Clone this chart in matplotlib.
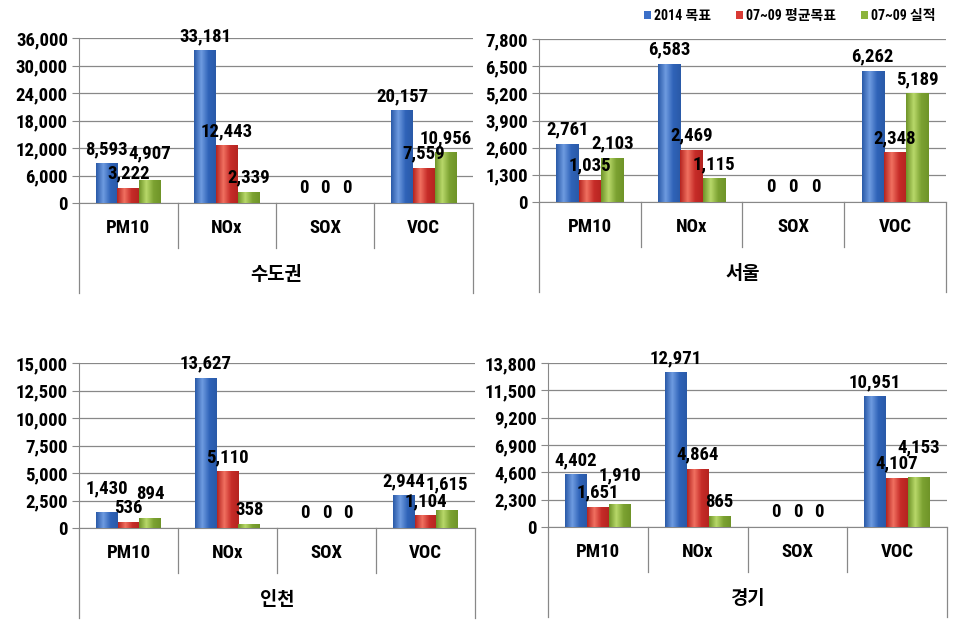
import numpy as np
import matplotlib
matplotlib.use('Agg')
import matplotlib.pyplot as plt
from matplotlib.colors import LinearSegmentedColormap
from matplotlib.patches import Patch

plt.rcParams['font.family'] = ['Roboto Condensed', 'Roboto', 'Noto Sans CJK KR', 'DejaVu Sans']
plt.rcParams['font.weight'] = 'bold'

# 데이터
categories = ['PM10', 'NOx', 'SOX', 'VOC']
series_names = ['2014 목표', '07~09 평균목표', '07~09 실적']
regions = ['수도권', '서울', '인천', '경기']

target_2014 = [[8593, 33181, 0, 20157],
               [2761, 6583, 0, 6262],
               [1430, 13627, 0, 2944],
               [4402, 12971, 0, 10951]]
avg_target = [[3222, 12443, 0, 7559],
              [1035, 2469, 0, 2348],
              [536, 5110, 0, 1104],
              [1651, 4864, 0, 4107]]
actual = [[4907, 2339, 0, 10956],
          [2103, 1115, 0, 5189],
          [894, 358, 0, 1615],
          [1910, 865, 0, 4153]]

y_max = [36000, 7800, 15000, 13800]
y_step = [6000, 1300, 2500, 2300]

# 겹치는 라벨 위로 밀기 (지역, 계열, 항목) -> 포인트
label_nudge = {(0, 2, 0): 9, (2, 0, 0): 7, (2, 2, 0): 7, (2, 2, 3): 8,
               (3, 2, 0): 10, (3, 2, 3): 11}

# 색상 (어두운 가장자리 -> 밝은 하이라이트 -> 어두운 가장자리)
colors = [('#2a5aa8', '#6e9be0', '#2f63b8'),
          ('#b52420', '#f07060', '#c62c28'),
          ('#6f9428', '#b8d86a', '#7ca232')]
legend_colors = ['#3b6fc8', '#d93a34', '#8cb43c']

W, H = 962, 625
# 플롯 영역 (픽셀: 왼쪽, 오른쪽, 위, 0선)
boxes = [(79, 473, 38, 203), (539, 946, 39, 202),
         (79, 475, 363, 528), (548, 947, 363, 527)]

fig = plt.figure(figsize=(W / 100, H / 100), dpi=100)

grad = np.linspace(0, 1, 64).reshape(1, -1)

for i, region in enumerate(regions):
    l, r, t, b = boxes[i]
    ax = fig.add_axes([l / W, (H - b) / H, (r - l) / W, (b - t) / H])
    ph = b - t
    x = np.arange(len(categories))
    w = 0.22
    data = [target_2014[i], avg_target[i], actual[i]]
    for k, vals in enumerate(data):
        bars = ax.bar(x + (k - 1) * w, vals, w, color='none', zorder=3)
        cmap = LinearSegmentedColormap.from_list('g', [colors[k][0], colors[k][1], colors[k][2], colors[k][0]])
        for j, (rect, v) in enumerate(zip(bars, vals)):
            x0 = rect.get_x()
            if v > 0:
                ax.imshow(grad, cmap=cmap, aspect='auto', zorder=3,
                          extent=(x0, x0 + rect.get_width(), 0, rect.get_height()))
            dy = 4 + label_nudge.get((i, k, j), 0)
            ax.annotate(f'{v:,}', (x0 + rect.get_width() / 2, v), xytext=(0, dy),
                        textcoords='offset points', ha='center', va='bottom',
                        fontsize=13.5, fontweight='bold', zorder=5)

    ax.set_xlim(-0.5, len(categories) - 0.5)
    ax.set_ylim(0, y_max[i])
    ax.set_yticks(np.arange(0, y_max[i] + 1, y_step[i]))
    ax.yaxis.set_major_formatter(matplotlib.ticker.FuncFormatter(lambda v, p: f'{int(v):,}'))
    ax.tick_params(axis='y', length=5, color='#888888', labelsize=13.5, pad=3)
    ax.set_xticks([])
    ax.grid(axis='y', color='#888888', linewidth=0.9, zorder=0)
    for s in ['top', 'right']:
        ax.spines[s].set_visible(False)
    ax.spines['left'].set_color('#888888')
    ax.spines['bottom'].set_color('#888888')

    # 아래쪽 분류 칸
    cat_low = -45 / ph
    grp_low = -90 / ph
    for j in range(1, len(categories)):
        ax.plot([j / len(categories)] * 2, [0, cat_low], transform=ax.transAxes,
                color='#888888', lw=0.9, clip_on=False)
    for xx in [0, 1]:
        ax.plot([xx, xx], [0, grp_low], transform=ax.transAxes,
                color='#888888', lw=0.9, clip_on=False)
    for j, c in enumerate(categories):
        ax.text((j + 0.5) / len(categories), -25 / ph, c, transform=ax.transAxes,
                ha='center', va='center', fontsize=13.5, fontweight='bold')
    ax.text(0.5, -72 / ph, region, transform=ax.transAxes, ha='center', va='center',
            fontsize=13.5, fontweight='bold')

handles = [Patch(facecolor=c, edgecolor='none') for c in legend_colors]
fig.legend(handles, series_names, loc='upper right', bbox_to_anchor=(0.985, 1.005), ncol=3,
           frameon=False, handlelength=0.5, handleheight=0.5,
           handletextpad=0.2, columnspacing=1.8, prop={'weight': 'bold', 'size': 10})

fig.savefig('out.png', dpi=100)
